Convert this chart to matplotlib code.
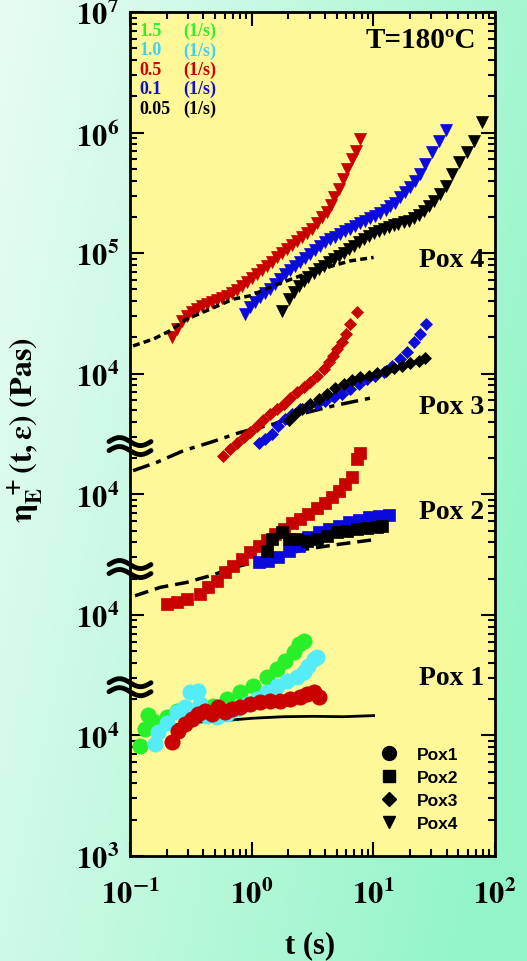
import numpy as np
import matplotlib.pyplot as plt
from matplotlib.lines import Line2D

plt.rcParams['mathtext.fontset'] = 'stix'

# curves are shifted up by a factor for display (stacked chart)
shift_pox1 = 1.0
shift_pox2 = 10.0
shift_pox3 = 100.0
shift_pox4 = 1000.0

# ---------------- Pox 4 (triangles) ----------------
p4_t_05 = [0.220, 0.242, 0.267, 0.293, 0.322, 0.354, 0.389, 0.428, 0.470, 0.517, 0.569, 0.625, 0.687, 0.756,
           0.830, 0.912, 1.00, 1.10, 1.21, 1.33, 1.47, 1.61, 1.77, 1.95, 2.14, 2.36, 2.59, 2.85, 3.13, 3.44,
           3.78, 4.16, 4.49, 4.78, 5.18, 5.63, 6.08, 6.68, 7.21, 7.82]
p4_e_05 = [2.00e4, 2.34e4, 2.75e4, 3.02e4, 3.26e4, 3.43e4, 3.61e4, 3.78e4, 3.95e4, 4.08e4, 4.24e4, 4.43e4,
           4.66e4, 4.97e4, 5.36e4, 5.78e4, 6.24e4, 6.70e4, 7.27e4, 7.85e4, 8.47e4, 9.21e4, 1.00e5, 1.08e5,
           1.16e5, 1.26e5, 1.35e5, 1.47e5, 1.60e5, 1.77e5, 1.98e5, 2.20e5, 2.50e5, 2.90e5, 3.40e5, 4.11e5,
           4.97e5, 6.02e5, 7.05e5, 8.81e5]
p4_t_01 = [0.885, 0.972, 1.07, 1.17, 1.29, 1.42, 1.56, 1.72, 1.89, 2.07, 2.28, 2.51, 2.75, 3.03, 3.33, 3.66,
           4.03, 4.43, 4.86, 5.35, 5.89, 6.47, 7.11, 7.82, 8.59, 9.44, 10.4, 11.4, 12.6, 13.8, 15.2, 16.7,
           18.3, 20.2, 22.2, 24.4, 26.8, 30.4, 34.4, 39.2]
p4_e_01 = [3.12e4, 3.55e4, 3.90e4, 4.29e4, 4.66e4, 5.03e4, 5.53e4, 6.09e4, 6.70e4, 7.27e4, 7.85e4, 8.47e4,
           9.14e4, 9.87e4, 1.06e5, 1.15e5, 1.23e5, 1.31e5, 1.37e5, 1.45e5, 1.52e5, 1.60e5, 1.68e5, 1.77e5,
           1.85e5, 1.94e5, 2.04e5, 2.15e5, 2.29e5, 2.44e5, 2.63e5, 2.90e5, 3.19e5, 3.57e5, 3.98e5, 4.52e5,
           5.47e5, 6.84e5, 8.53e5, 1.05e6]
p4_t_005 = [1.77, 2.01, 2.21, 2.43, 2.67, 2.93, 3.23, 3.55, 3.90, 4.29, 4.71, 5.18, 5.70, 6.26, 6.88, 7.57,
            8.32, 9.14, 10.05, 11.1, 12.2, 13.4, 14.7, 16.1, 17.7, 19.5, 21.5, 23.6, 25.9, 28.5, 31.4, 35.6,
            39.2, 44.5, 50.4, 59.0, 67.0, 78.5]
p4_e_005 = [3.32e4, 4.16e4, 4.78e4, 5.36e4, 5.89e4, 6.36e4, 6.82e4, 7.37e4, 7.85e4, 8.38e4, 8.92e4, 9.50e4,
            1.01e5, 1.08e5, 1.15e5, 1.23e5, 1.31e5, 1.39e5, 1.47e5, 1.54e5, 1.60e5, 1.66e5, 1.71e5, 1.75e5,
            1.80e5, 1.85e5, 1.94e5, 2.07e5, 2.24e5, 2.47e5, 2.72e5, 3.08e5, 3.61e5, 4.52e5, 5.65e5, 6.84e5,
            8.53e5, 1.23e6]
p4_t_lve = [0.106, 0.156, 0.213, 0.293, 0.455, 0.708, 0.972, 1.51, 2.51, 4.16, 6.47, 10.05]
p4_e_lve = [1.70e4, 1.94e4, 2.27e4, 2.84e4, 3.43e4, 4.16e4, 4.43e4, 5.36e4, 6.48e4, 7.61e4, 8.63e4, 9.21e4]

# ---------------- Pox 3 (diamonds) ----------------
p3_t_05 = [0.586, 0.665, 0.756, 0.857, 0.972, 1.10, 1.25, 1.42, 1.61, 1.83, 2.07, 2.36, 2.67, 3.03, 3.44,
           3.90, 4.29, 4.66, 5.02, 5.52, 5.99, 6.47, 7.34]
p3_e_05 = [2.08e4, 2.37e4, 2.66e4, 2.96e4, 3.30e4, 3.70e4, 4.15e4, 4.62e4, 5.08e4, 5.60e4, 6.24e4, 7.00e4,
           7.69e4, 8.47e4, 9.50e4, 1.09e5, 1.24e5, 1.41e5, 1.60e5, 1.84e5, 2.13e5, 2.58e5, 3.26e5]
p3_t_01 = [1.14, 1.29, 1.47, 1.66, 1.89, 2.14, 2.51, 2.93, 3.44, 4.03, 4.71, 5.52, 6.47, 7.57, 8.87, 10.4,
           12.2, 14.3, 16.7, 18.9, 21.5, 24.4, 27.3]
p3_e_01 = [2.66e4, 2.87e4, 3.16e4, 3.70e4, 4.21e4, 4.62e4, 5.08e4, 5.42e4, 5.60e4, 5.96e4, 6.36e4, 6.78e4,
           7.45e4, 8.20e4, 9.02e4, 9.61e4, 1.04e5, 1.16e5, 1.32e5, 1.50e5, 1.82e5, 2.13e5, 2.58e5]
p3_t_005 = [2.01, 2.28, 2.59, 3.03, 3.55, 4.16, 4.86, 5.70, 6.68, 7.82, 9.14, 10.7, 12.6, 14.7, 17.2, 20.2,
            23.6, 26.8]
p3_e_005 = [4.15e4, 4.62e4, 5.08e4, 5.60e4, 6.16e4, 6.78e4, 7.55e4, 8.20e4, 8.91e4, 9.31e4, 9.61e4, 1.01e5,
            1.06e5, 1.11e5, 1.16e5, 1.22e5, 1.28e5, 1.36e5]
p3_t_lve = [0.106, 0.166, 0.275, 0.455, 0.804, 1.51, 2.51, 4.71, 10.05]
p3_e_lve = [1.57e4, 1.84e4, 2.30e4, 2.69e4, 3.26e4, 3.82e4, 4.62e4, 5.42e4, 6.36e4]

# ---------------- Pox 2 (squares) ----------------
p2_t_05 = [0.200, 0.242, 0.293, 0.377, 0.438, 0.517, 0.605, 0.708, 0.830, 0.972, 1.14, 1.33, 1.56, 1.83,
           2.14, 2.51, 2.93, 3.44, 4.03, 4.57, 5.18, 5.89, 6.68, 7.34, 7.82]
p2_e_05 = [1.23e4, 1.27e4, 1.35e4, 1.49e4, 1.70e4, 1.92e4, 2.25e4, 2.55e4, 2.90e4, 3.30e4, 3.74e4, 4.20e4,
           4.68e4, 5.14e4, 5.77e4, 6.22e4, 6.85e4, 7.64e4, 8.45e4, 9.42e4, 1.07e5, 1.22e5, 1.38e5, 1.96e5,
           2.22e5]
p2_t_01 = [1.14, 1.37, 1.66, 2.01, 2.43, 2.93, 3.55, 4.29, 5.18, 6.26, 7.57, 9.14, 11.1, 13.4]
p2_e_01 = [2.72e4, 2.81e4, 3.00e4, 3.40e4, 3.74e4, 4.39e4, 4.83e4, 5.14e4, 5.48e4, 5.85e4, 6.15e4, 6.43e4,
           6.64e4, 6.73e4]
p2_t_005 = [1.33, 1.47, 1.77, 2.01, 2.36, 2.85, 3.44, 4.16, 5.02, 6.08, 7.34, 8.87, 10.7, 11.8]
p2_e_005 = [3.40e4, 4.25e4, 4.83e4, 4.25e4, 4.25e4, 4.11e4, 4.25e4, 4.53e4, 4.83e4, 4.98e4, 5.14e4, 5.21e4,
            5.38e4, 5.48e4]
p2_t_lve = [0.110, 0.177, 0.293, 0.455, 0.804, 1.51, 2.85, 5.35, 10.05]
p2_e_lve = [1.44e4, 1.69e4, 1.86e4, 2.11e4, 2.55e4, 3.00e4, 3.52e4, 3.86e4, 4.20e4]

# ---------------- Pox 1 (circles) ----------------
p1_t_15 = [0.121, 0.133, 0.141, 0.156, 0.200, 0.242, 0.312, 0.377, 0.485, 0.625, 0.804, 1.035, 1.33, 1.61,
           1.89, 2.21, 2.43, 2.67]
p1_e_15 = [8.22e3, 1.13e4, 1.48e4, 1.32e4, 1.41e4, 1.60e4, 1.37e4, 1.55e4, 1.76e4, 2.00e4, 2.28e4, 2.58e4,
           3.03e4, 3.56e4, 4.16e4, 4.89e4, 5.73e4, 6.10e4]
p1_t_10 = [0.161, 0.171, 0.200, 0.242, 0.284, 0.312, 0.365, 0.377, 0.428, 0.517, 0.625, 0.756, 0.912, 1.10,
           1.33, 1.61, 1.95, 2.36, 2.67, 2.93, 3.23, 3.44]
p1_e_10 = [8.49e3, 1.06e4, 1.28e4, 1.55e4, 1.71e4, 2.28e4, 2.35e4, 1.82e4, 1.46e4, 1.41e4, 1.50e4, 1.66e4,
           1.82e4, 2.00e4, 2.28e4, 2.58e4, 2.84e4, 3.03e4, 3.34e4, 3.79e4, 4.30e4, 4.44e4]
p1_t_05 = [0.220, 0.250, 0.284, 0.322, 0.365, 0.414, 0.470, 0.533, 0.605, 0.687, 0.804, 0.972, 1.17, 1.42,
           1.72, 2.07, 2.51, 2.85, 3.23, 3.55]
p1_e_05 = [8.87e3, 1.09e4, 1.24e4, 1.37e4, 1.50e4, 1.60e4, 1.50e4, 1.71e4, 1.55e4, 1.66e4, 1.71e4, 1.82e4,
           1.88e4, 1.94e4, 1.94e4, 2.00e4, 2.07e4, 2.20e4, 2.30e4, 2.07e4]
p1_t_lve = [0.177, 0.312, 0.551, 1.035, 1.83, 3.23, 5.70, 10.05]
p1_e_lve = [1.17e4, 1.28e4, 1.32e4, 1.39e4, 1.43e4, 1.44e4, 1.43e4, 1.46e4]

# axis ticks (stacked axis, so labels repeat)
y_tick_pos = [1e3, 1e4, 1e5, 1e6, 1e7, 1e8, 1e9, 1e10]
y_tick_lab = ['3', '4', '4', '4', '4', '5', '6', '7']
x_tick_pos = [0.1, 1, 10, 100]
x_tick_lab = ['-1', '0', '1', '2']
y_breaks = [10**4.40, 10**5.38, 10**6.40]

rate_labels = ['1.5', '1.0', '0.5', '0.1', '0.05']
rate_colors = ['#2ef02e', '#3cd2f5', '#cc0000', '#1010d0', 'black']

red = '#c80000'
blue = '#0a0adc'
green = '#28f028'
cyan = '#55ecfa'

fig = plt.figure(figsize=(5.27, 9.62), dpi=100)

# background gradient
bg = fig.add_axes([0, 0, 1, 1], zorder=-5)
gx = np.linspace(0, 1, 200)
gy = np.linspace(0, 1, 200)
GX, GY = np.meshgrid(gx, gy)
w = np.clip(0.8 * GX + 0.3 * GY, 0, 1)[..., None]
c0 = np.array([0.91, 0.99, 0.95])
c1 = np.array([0.58, 0.96, 0.79])
bg.imshow(c0 * (1 - w) + c1 * w, aspect='auto', extent=[0, 1, 0, 1], origin='upper')
bg.axis('off')

ax = fig.add_axes([130 / 527, 1 - 857 / 962, 365 / 527, 844 / 962])
ax.set_facecolor('#fff899')
ax.set_xscale('log')
ax.set_yscale('log')

lw = 2.5
ax.plot(p4_t_lve, np.array(p4_e_lve) * shift_pox4, color='black', lw=lw, ls=(0, (2, 1.2)), zorder=4)
ax.plot(p3_t_lve, np.array(p3_e_lve) * shift_pox3, color='black', lw=lw, ls=(0, (5, 2, 1.5, 2)), zorder=2)
ax.plot(p2_t_lve, np.array(p2_e_lve) * shift_pox2, color='black', lw=lw, ls=(0, (4, 2)), zorder=2)
ax.plot(p1_t_lve, np.array(p1_e_lve) * shift_pox1, color='black', lw=2, ls='-', zorder=2)

def pts(t, e, s, mk, col, ms):
    ax.plot(t, np.array(e) * s, ls='none', marker=mk, color=col, ms=ms, mec=col, mew=0.5, zorder=3)

pts(p4_t_05, p4_e_05, shift_pox4, 'v', red, 9)
pts(p4_t_01, p4_e_01, shift_pox4, 'v', blue, 9)
pts(p4_t_005, p4_e_005, shift_pox4, 'v', 'black', 9)

pts(p3_t_05, p3_e_05, shift_pox3, 'D', red, 6)
pts(p3_t_01, p3_e_01, shift_pox3, 'D', blue, 6)
pts(p3_t_005, p3_e_005, shift_pox3, 'D', 'black', 6)

pts(p2_t_05, p2_e_05, shift_pox2, 's', red, 8.5)
pts(p2_t_01, p2_e_01, shift_pox2, 's', blue, 8.5)
pts(p2_t_005, p2_e_005, shift_pox2, 's', 'black', 8.5)

pts(p1_t_15, p1_e_15, shift_pox1, 'o', green, 11)
pts(p1_t_10, p1_e_10, shift_pox1, 'o', cyan, 11)
pts(p1_t_05, p1_e_05, shift_pox1, 'o', red, 11)

ax.set_xlim(0.1, 100)
ax.set_ylim(1e3, 1e10)
ax.set_xticks(x_tick_pos)
ax.set_xticklabels([r'$\mathbf{10^{%s}}$' % s for s in x_tick_lab])
ax.set_yticks(y_tick_pos)
ax.set_yticklabels([r'$\mathbf{10^{%s}}$' % s for s in y_tick_lab])
ax.tick_params(which='both', direction='in', top=True, right=True, width=1.5)
ax.tick_params(which='major', length=10, labelsize=22)
ax.tick_params(axis='x', which='major', pad=16)
ax.tick_params(axis='y', which='major', pad=8)
ax.tick_params(which='minor', length=5)
for sp in ax.spines.values():
    sp.set_linewidth(2)

# axis break marks
u = np.linspace(-1, 1, 60)
for yb in y_breaks:
    for off in (4.5, -4.5):
        yy = yb * 10 ** ((off - 4 * np.sin(np.pi * u)) / 120.6)
        ax.plot(u * 21 / 365, yy, color='black', lw=3.5, transform=ax.get_yaxis_transform(),
                clip_on=False, zorder=6, solid_capstyle='round')

ax.set_xlabel('t (s)', fontsize=22, fontweight='bold', family='Liberation Serif')
ax.xaxis.set_label_coords(0.493, -0.088)
ax.set_ylabel(r'$\mathbf{\eta_E^{\ +}(t,\varepsilon)\ (Pas)}$', fontsize=23)
ax.yaxis.set_label_coords(-0.233, 0.506)

ax.text(0.797, 0.968, 'T=180ºC', transform=ax.transAxes, ha='center', va='center',
        fontsize=21, fontweight='bold', family='Liberation Serif')
for i, (lab, col) in enumerate(zip(rate_labels, rate_colors)):
    yy = 0.978 - i * 0.023
    ax.text(0.027, yy, lab, color=col, transform=ax.transAxes, va='center',
            fontsize=13, fontweight='bold', family='Liberation Serif')
    ax.text(0.145, yy, '(1/s)', color=col, transform=ax.transAxes, va='center',
            fontsize=13, fontweight='bold', family='Liberation Serif')

for lab, yy in zip(['Pox 4', 'Pox 3', 'Pox 2', 'Pox 1'], [0.707, 0.533, 0.408, 0.211]):
    ax.text(0.970, yy, lab, transform=ax.transAxes, ha='right', va='center',
            fontsize=20, fontweight='bold', family='Liberation Serif')

handles = [Line2D([], [], ls='none', marker=m, color='black', ms=s)
           for m, s in zip(['o', 's', 'D', 'v'], [10, 8, 7, 9])]
ax.legend(handles, ['Pox1', 'Pox2', 'Pox3', 'Pox4'], loc='center left', bbox_to_anchor=(0.686, 0.079),
          frameon=False, handlelength=1.0, handletextpad=1.1, labelspacing=0.45, borderpad=0,
          borderaxespad=0, prop={'family': 'Liberation Sans', 'weight': 'bold', 'size': 12.5})

fig.savefig('out.png', dpi=100)
